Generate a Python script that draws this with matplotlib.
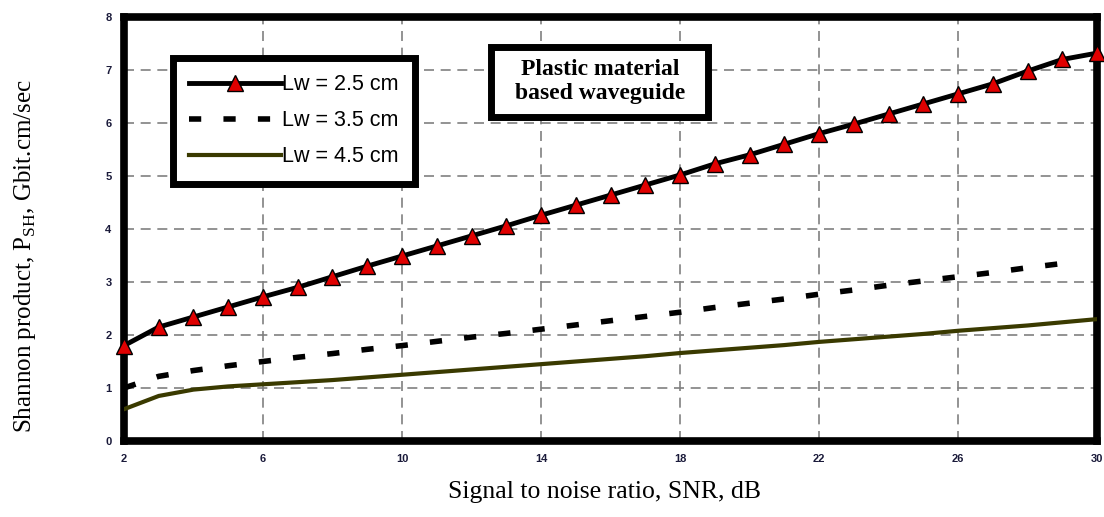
import numpy as np
import matplotlib
matplotlib.use('Agg')
import matplotlib.pyplot as plt
from matplotlib.patches import Rectangle

plt.rcParams['mathtext.fontset'] = 'custom'
plt.rcParams['mathtext.rm'] = 'Liberation Serif'

# Данные
snr = np.arange(2, 31)
lw25 = [1.80, 2.15, 2.34, 2.53, 2.72, 2.90, 3.10, 3.30, 3.49, 3.68,
        3.87, 4.06, 4.26, 4.45, 4.64, 4.83, 5.02, 5.23, 5.40, 5.60,
        5.80, 5.98, 6.17, 6.36, 6.55, 6.74, 6.98, 7.20, 7.32]
lw35 = [1.00, 1.22, 1.33, 1.42, 1.50, 1.58, 1.65, 1.73, 1.80, 1.88,
        1.96, 2.03, 2.11, 2.19, 2.27, 2.35, 2.43, 2.52, 2.60, 2.68,
        2.77, 2.85, 2.94, 3.02, 3.10, 3.18, 3.27, 3.35, 3.43]
lw45 = [0.60, 0.85, 0.97, 1.03, 1.07, 1.11, 1.15, 1.20, 1.25, 1.30,
        1.35, 1.40, 1.45, 1.50, 1.55, 1.60, 1.66, 1.71, 1.76, 1.81,
        1.87, 1.92, 1.97, 2.02, 2.08, 2.13, 2.18, 2.24, 2.30]
labels = ['Lw = 2.5 cm', 'Lw = 3.5 cm', 'Lw = 4.5 cm']
xticks = [2, 6, 10, 14, 18, 22, 26, 30]
yticks = [0, 1, 2, 3, 4, 5, 6, 7, 8]

fig = plt.figure(figsize=(11.04, 5.17), dpi=100)
ax = fig.add_axes([0.1123, 0.147, 0.8814, 0.82])

ax.plot(snr, lw25, '-', color='black', lw=3.5, marker='^', ms=11,
        mfc='#e00000', mec='black', mew=1, label=labels[0], zorder=4,
        clip_on=False)
ax.plot(snr[:-1], lw35[:-1], color='black', lw=4, dashes=(2.2, 4),
        label=labels[1], zorder=3)
ax.plot(snr, lw45, '-', color='#3a3a00', lw=3, label=labels[2], zorder=3)

ax.set_xlim(2, 30)
ax.set_ylim(0, 8)
ax.set_xticks(xticks)
ax.set_yticks(yticks)
ax.grid(True, color='gray', ls=(0, (6, 4)), lw=1.2)
for s in ax.spines.values():
    s.set_linewidth(5.5)
ax.tick_params(length=0, pad=9, labelsize=8, labelcolor='#1a1a3a')
for t in ax.get_xticklabels() + ax.get_yticklabels():
    t.set_fontweight('bold')
    t.set_family('Liberation Sans')

ax.set_xlabel('Signal to noise ratio, SNR, dB', family='Liberation Serif',
              fontsize=18.5)
ax.xaxis.set_label_coords(0.494, -0.095)
ax.set_ylabel('Shannon product, P$_{\\mathrm{SH}}$, Gbit.cm/sec',
              family='Liberation Serif', fontsize=18)
ax.yaxis.set_label_coords(-0.088, 0.436)

leg = ax.legend(loc='upper left', bbox_to_anchor=(0.050, 0.903),
                prop={'family': 'Liberation Sans', 'size': 15.5},
                fancybox=False, framealpha=1, edgecolor='black',
                handlelength=4.3, handletextpad=0.05, borderpad=0.75,
                labelspacing=0.7, borderaxespad=0)
leg.get_frame().set_linewidth(5)

ax.add_patch(Rectangle((0.3767, 0.765), 0.224, 0.165, transform=ax.transAxes,
                       fc='white', ec='black', lw=5, zorder=5))
ax.text(0.489, 0.848, 'Plastic material\nbased waveguide',
        transform=ax.transAxes, ha='center', va='center',
        family='Liberation Serif', fontweight='bold', fontsize=17,
        linespacing=1.15, zorder=6)

fig.savefig('out.png', dpi=100)
